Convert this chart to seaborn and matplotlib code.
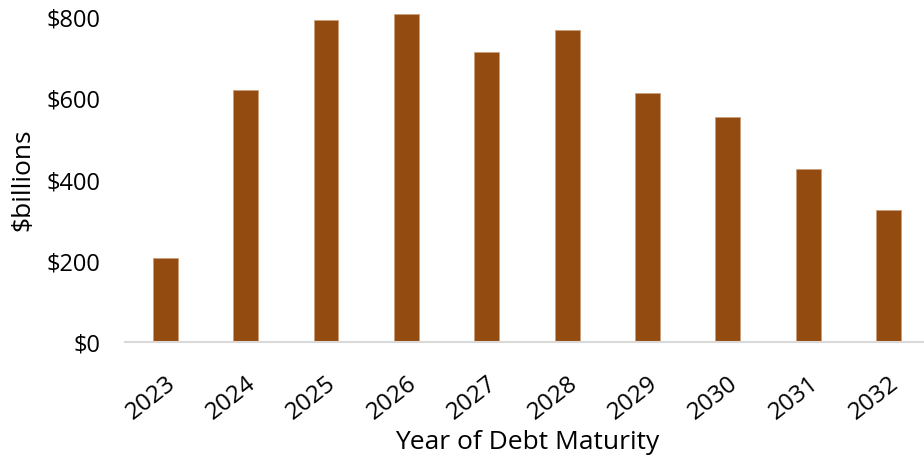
import matplotlib
matplotlib.use("Agg")
import matplotlib.pyplot as plt
import seaborn as sns
import pandas as pd
import numpy as np

years = ["2023", "2024", "2025", "2026", "2027", "2028", "2029", "2030", "2031", "2032"]
values = [208, 621, 794, 811, 716, 770, 615, 556, 427, 326]
ytick_vals = [0, 200, 400, 600, 800]
ytick_labels = ["$0", "$200", "$400", "$600", "$800"]

sns.set_theme(style="white")
plt.rcParams['font.family'] = ['Open Sans', 'DejaVu Sans']

df = pd.DataFrame({"year": years, "value": values})

fig = plt.figure(figsize=(9.24, 4.61), dpi=100)
ax = fig.add_axes([0.1353, 0.258, 0.870, 0.703])

sns.barplot(data=df, x="year", y="value", color="#934B10", width=0.31,
            saturation=1, ax=ax, edgecolor="#c9a07e", linewidth=0.6)
for p in ax.patches:
    p.set_clip_on(False)

ax.set_ylim(0, 800)
ax.set_xlim(-0.5, len(years) - 0.5)
ax.set_yticks(ytick_vals)
ax.set_yticklabels(ytick_labels, fontsize=17, color="#000000")
ax.tick_params(axis="y", length=0, pad=18)

for s in ["top", "right", "left"]:
    ax.spines[s].set_visible(False)
ax.spines["bottom"].set_color("#d9d9d9")
ax.spines["bottom"].set_linewidth(1.5)

ax.set_xticks(range(len(years)))
ax.set_xticklabels(years, rotation=38, ha="right", va="top", rotation_mode="anchor",
                   fontsize=17.5, color="#000000")
ax.tick_params(axis="x", length=0, pad=21)
ax.set_xticks(np.arange(-0.5, len(years), 1.0), minor=True)
ax.tick_params(axis="x", which="minor", length=8, width=1.5, color="#d9d9d9", direction="out")

ax.set_xlabel("Year of Debt Maturity", fontsize=19, color="#000000", labelpad=4)
ax.set_ylabel("$billions", fontsize=19, color="#000000", labelpad=8)
ax.grid(False)

fig.savefig("out.png", dpi=100)
